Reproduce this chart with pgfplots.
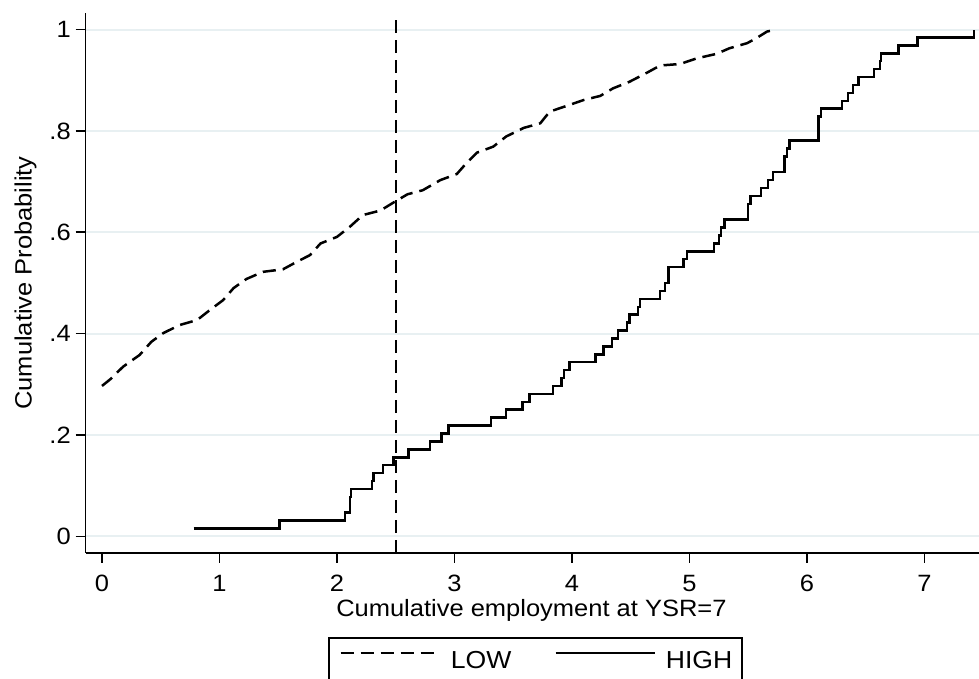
\documentclass[border=0pt]{standalone}
\usepackage{fontspec}
\setmainfont{Liberation Sans}[FakeStretch=1.08]
\usepackage{pgfplots}
\usepackage{pgfplotstable}
\pgfplotsset{compat=1.18}
\definecolor{gridc}{RGB}{232,240,242}

% LOW group
\pgfplotstableread{
x y
0.00 0.297
0.07 0.310
0.18 0.335
0.32 0.358
0.42 0.384
0.52 0.401
0.66 0.417
0.81 0.427
0.92 0.447
1.03 0.466
1.12 0.490
1.23 0.508
1.37 0.522
1.54 0.527
1.66 0.542
1.77 0.555
1.86 0.578
2.00 0.591
2.11 0.611
2.22 0.634
2.37 0.643
2.49 0.660
2.60 0.675
2.73 0.683
2.88 0.703
3.02 0.715
3.10 0.736
3.19 0.757
3.33 0.769
3.44 0.789
3.59 0.806
3.73 0.815
3.81 0.838
3.95 0.849
4.10 0.861
4.24 0.869
4.35 0.884
4.49 0.897
4.64 0.915
4.75 0.929
4.92 0.932
5.06 0.943
5.23 0.952
5.34 0.963
5.49 0.973
5.57 0.983
5.66 0.996
5.74 1.000
}\lowtab

% HIGH group, step function (64 obs)
\pgfplotstableread{
x y
0.78 0.015625
1.51 0.03125
2.07 0.046875
2.11 0.078125
2.12 0.09375
2.30 0.109375
2.31 0.125
2.39 0.140625
2.48 0.15625
2.61 0.171875
2.79 0.1875
2.89 0.203125
2.95 0.21875
3.31 0.234375
3.44 0.25
3.58 0.265625
3.64 0.28125
3.84 0.296875
3.91 0.3125
3.93 0.328125
3.98 0.34375
4.20 0.359375
4.27 0.375
4.34 0.390625
4.39 0.40625
4.47 0.421875
4.49 0.4375
4.56 0.453125
4.58 0.46875
4.75 0.484375
4.79 0.5
4.82 0.53125
4.95 0.546875
4.98 0.5625
5.21 0.578125
5.25 0.59375
5.27 0.609375
5.30 0.625
5.50 0.65625
5.52 0.671875
5.61 0.6875
5.67 0.703125
5.71 0.71875
5.81 0.75
5.83 0.765625
5.85 0.78125
6.10 0.828125
6.12 0.84375
6.30 0.859375
6.35 0.875
6.39 0.890625
6.44 0.90625
6.57 0.921875
6.62 0.9375
6.63 0.953125
6.78 0.96875
6.94 0.984375
7.42 1
}\hightab

\begin{document}
\begin{tikzpicture}
\begin{axis}[
    name=ax, at={(0,0)}, anchor=south west,
    scale only axis,
    width=446.7pt, height=269.7pt,
    xmin=-0.1396, xmax=7.464,
    ymin=-0.032, ymax=1.032,
    axis x line*=bottom, axis y line*=left,
    axis line style={line width=0.9pt, -},
    xtick={0,1,...,7},
    ytick={0,0.2,0.4,0.6,0.8,1},
    yticklabels={0,.2,.4,.6,.8,1},
    tick align=outside,
    major tick length=5pt,
    tick style={black, line width=0.8pt},
    ymajorgrids,
    grid style={gridc, line width=1pt},
    /pgf/number format/assume math mode=true,
    ticklabel style={font=\fontsize{11.8}{13}\selectfont},
    xticklabel style={yshift=-2.8pt},
    yticklabel style={xshift=1.1pt},
    xlabel={Cumulative employment at YSR=7},
    ylabel={Cumulative Probability},
    label style={font=\fontsize{11.8}{13}\selectfont},
    xlabel style={at={(axis description cs:0.499,0)}, anchor=base, yshift=-32pt},
    ylabel style={at={(axis description cs:0,0.5)}, anchor=base, yshift=27pt},
    legend columns=2,
    legend image code/.code={\draw[#1] (0pt,4.4pt) -- (49.5pt,4.4pt);},
    legend style={
        at={(axis description cs:0.2717,-0.1557)}, anchor=north west,
        draw=black, line width=1pt,
        inner xsep=5pt, inner ysep=7pt,
        nodes={inner sep=0pt, font=\fontsize{12.3}{14}\selectfont},
        /tikz/every odd column/.append style={column sep=5pt},
        /tikz/every even column/.append style={column sep=21.5pt},
    },
]
\addplot[black, line width=1.25pt, dash pattern=on 6.5pt off 3.5pt] table {\lowtab};
\addlegendentry{LOW}
\addplot[black, line width=1.25pt, const plot] table {\hightab};
\addlegendentry{HIGH}
\addplot[black, line width=1.2pt, dash pattern=on 6.5pt off 3.5pt, forget plot]
    coordinates {(2.5,-0.032) (2.5,1.032)};
\end{axis}
\pgfresetboundingbox
\path[use as bounding box] (-42.8pt,-63.15pt) rectangle (446.7pt,276.35pt);
\end{tikzpicture}
\end{document}
